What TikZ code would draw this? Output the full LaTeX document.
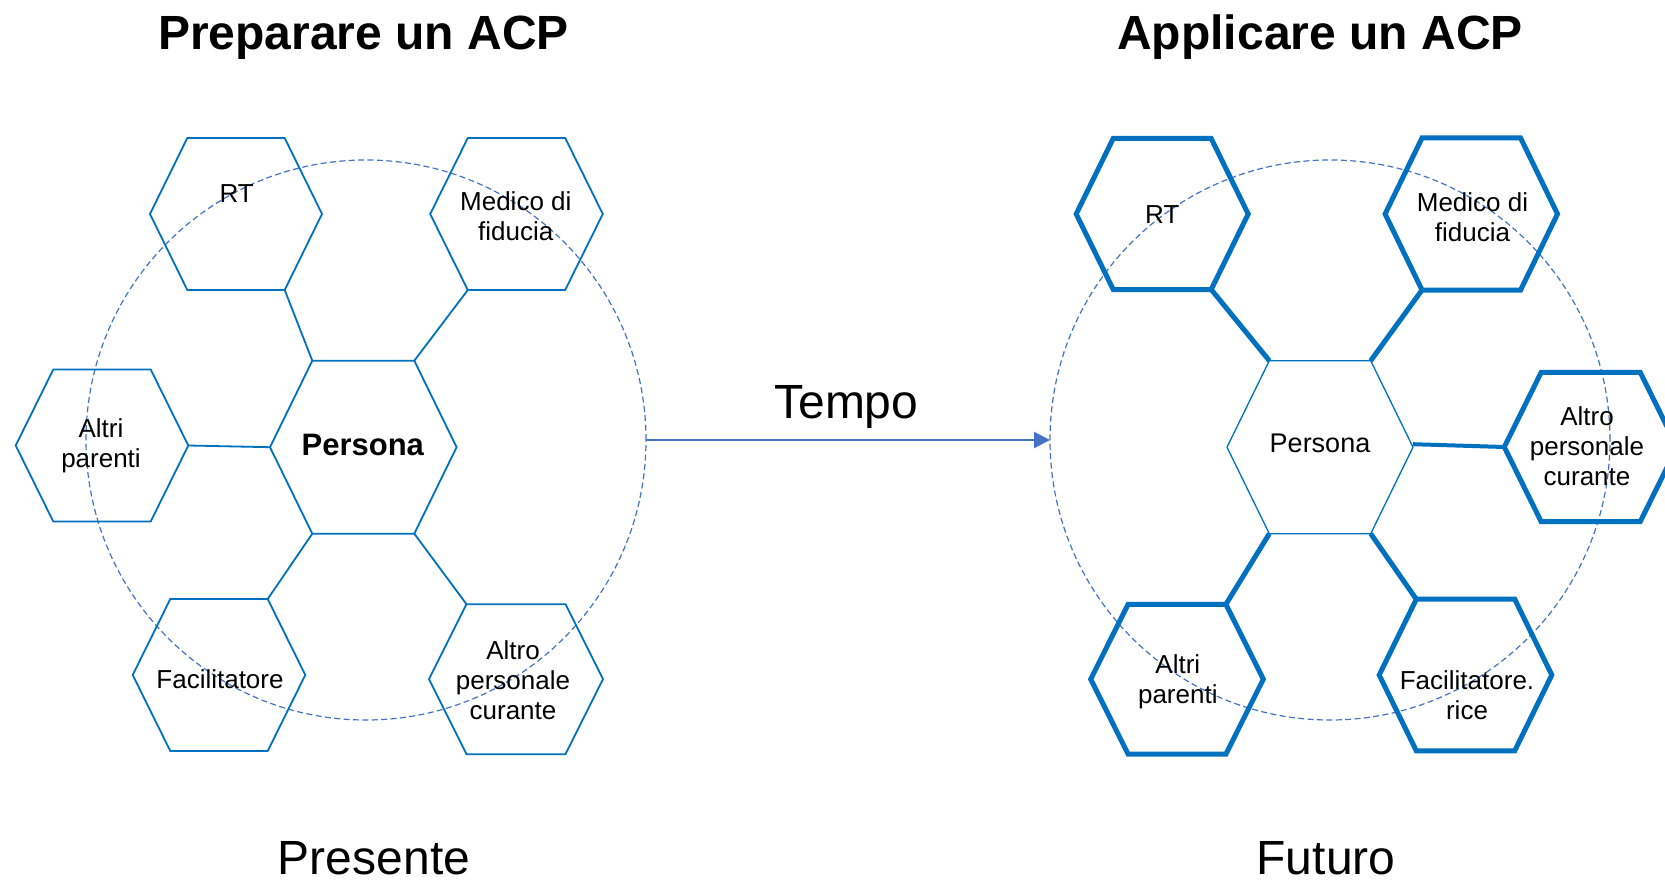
\documentclass[tikz,border=0pt]{standalone}
\usepackage{fontspec}
\setmainfont{Liberation Sans}
\usetikzlibrary{arrows.meta}
\definecolor{hexblue}{HTML}{0070C0}
\definecolor{ringblue}{HTML}{4472C4}

% Hexagon with flat top: name, centre, half width, half top edge, half height, style.
% Defines the corner coordinates <name>-l, -tl, -tr, -r, -br, -bl.
\newcommand\hexcell[6]{%
  \path (#2) ++(-#3,0) coordinate (#1-l)
        (#2) ++(-#4,-#5) coordinate (#1-tl)
        (#2) ++(#4,-#5) coordinate (#1-tr)
        (#2) ++(#3,0) coordinate (#1-r)
        (#2) ++(#4,#5) coordinate (#1-br)
        (#2) ++(-#4,#5) coordinate (#1-bl);
  \draw[#6] (#1-l) -- (#1-tl) -- (#1-tr) -- (#1-r) -- (#1-br) -- (#1-bl) -- cycle;}

\tikzset{
  thinhex/.style={draw=hexblue, line width=0.9pt},
  thickhex/.style={draw=hexblue, line width=2.5pt},
  corehex/.style={draw=hexblue, line width=0.65pt},
  thinlink/.style={draw=hexblue, line width=0.9pt},
  thicklink/.style={draw=hexblue, line width=2.5pt},
  ring/.style={circle, draw=ringblue, line width=0.6pt, dash pattern=on 3pt off 1.7pt,
    minimum size=280pt, inner sep=0pt, outer sep=0pt},
  timearrow/.style={draw=ringblue, line width=1pt, -{Triangle[length=8pt,width=8pt]}},
  cell/.style={inner sep=0pt, align=center, font=\fontsize{13}{15}\selectfont},
  title/.style={inner sep=0pt, anchor=base, font=\fontsize{24}{28}\selectfont\bfseries},
  big/.style={inner sep=0pt, anchor=base, font=\fontsize{24}{28}\selectfont},
}

\begin{document}
\begin{tikzpicture}[x=0.5pt, y=-0.5pt]
\useasboundingbox (0,0) rectangle (1665,883);

% titles
\node[title] (tprep) at (363.6,50) {Preparare un ACP};
\node[title] (tappl) at (1320,50) {Applicare un ACP};

% dashed rings
\node[ring] (lc) at (366,440) {};
\node[ring] (rc) at (1330,440) {};

% time arrow
\draw[timearrow] (lc.east) -- (rc.west);
\node[big] (tempo) at (846.3,418.3) {Tempo};

% ---- present ----
\hexcell{lrt}{236,214}{86}{48.7}{76}{thinhex}
\hexcell{lmd}{516.5,214}{86.3}{48.7}{76}{thinhex}
\hexcell{lap}{102,445.5}{86.3}{48.7}{76}{thinhex}
\hexcell{lfa}{219,675}{86.3}{48.7}{76}{thinhex}
\hexcell{lac}{516,679.2}{87}{49.5}{75}{thinhex}
\hexcell{lp}{363.3,447.2}{93.3}{51}{86.5}{thinhex}

\draw[thinlink] (lrt-br) -- (lp-tl);
\draw[thinlink] (lmd-bl) -- (lp-tr);
\draw[thinlink] (lap-r) -- (lp-l);
\draw[thinlink] (lp-bl) -- (lfa-tr);
\draw[thinlink] (lp-br) -- (lac-tl);

\node[cell] (lrttxt) at (236.7,194) {RT};
\node[cell] (lmdtxt) at (515.8,216.2) {Medico di\\fiducia};
\node[cell] (laptxt) at (101,446) {Altri\\parenti};
\node[cell, font=\fontsize{15.5}{18}\selectfont\bfseries] (lptxt) at (362.8,445) {Persona};
\node[cell] (lfatxt) at (220,679.7) {Facilitatore};
\node[cell] (lactxt) at (513,680.5) {Altro\\personale\\curante};

% ---- future ----
\hexcell{rrt}{1162.2,214}{86}{49}{75.5}{thickhex}
\hexcell{rmd}{1471.3,214}{86.2}{49.3}{76}{thickhex}
\hexcell{rac}{1590.7,447}{86.4}{49.5}{74.7}{thickhex}
\hexcell{rap}{1177,679.2}{86.3}{48.9}{74.9}{thickhex}
\hexcell{rfa}{1465.5,675}{86.3}{49.2}{75.8}{thickhex}
\hexcell{rp}{1320,447.2}{93}{50.7}{86.5}{corehex}

\draw[thicklink] (rrt-br) -- (rp-tl);
\draw[thicklink] (rmd-bl) -- (rp-tr);
\draw[thicklink, line width=2pt] ([yshift=1.5pt]rp-r) -- (rac-l);
\draw[thicklink] (rp-bl) -- (rap-tr);
\draw[thicklink] (rp-br) -- (rfa-tl);

\node[cell] (rrttxt) at (1162.3,214.2) {RT};
\node[cell] (rmdtxt) at (1472.5,217) {Medico di\\fiducia};
\node[cell, font=\fontsize{13.5}{16}\selectfont] (rptxt) at (1320,443) {Persona};
\node[cell] (ractxt) at (1587,446.7) {Altro\\personale\\curante};
\node[cell] (raptxt) at (1177.8,682) {Altri\\parenti};
\node[cell] (rfatxt) at (1467,695) {Facilitatore.\\rice};

% time labels
\node[big] (presente) at (374,874) {Presente};
\node[big] (futuro) at (1326,874) {Futuro};
\end{tikzpicture}
\end{document}
